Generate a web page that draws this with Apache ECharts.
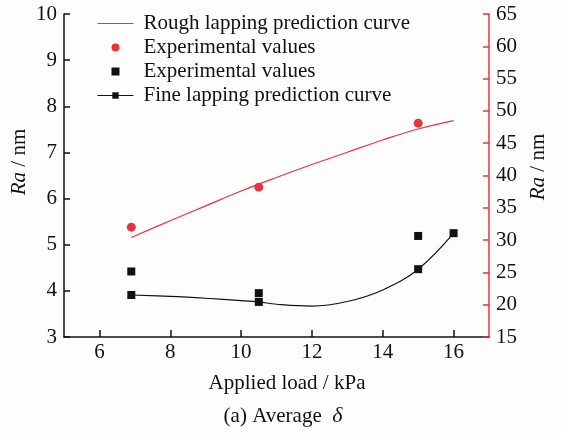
<!DOCTYPE html>
<html>
<head>
<meta charset="utf-8">
<script src="https://cdn.jsdelivr.net/npm/echarts@6/dist/echarts.min.js"></script>
<style>
  html, body { margin: 0; padding: 0; background: #fdfdfd; }
  #chart { width: 562px; height: 433px; }
</style>
</head>
<body>
<div id="chart"></div>
<script>
// values (applied load in kPa, Ra in nm)
const xTicks = [6, 8, 10, 12, 14, 16];

// rough lapping: right (red) axis
const roughCurveLoad = [6.9, 8, 9, 10, 11, 12, 13, 14, 15, 16];
const roughCurveRa = [30.4, 33.0, 35.3, 37.6, 39.7, 41.7, 43.6, 45.5, 47.2, 48.5];
const roughExpLoad = [6.9, 10.5, 15];
const roughExpRa = [32.0, 38.2, 48.1];

// fine lapping: left axis
const fineExpLoad = [6.9, 10.5, 15];
const fineExpRa = [4.42, 3.95, 5.19];
const fineCurveLoad = [6.9, 8, 9, 10, 10.5, 11, 12, 13, 14, 15, 16];
const fineCurveRa = [3.91, 3.88, 3.84, 3.79, 3.76, 3.71, 3.67, 3.77, 4.02, 4.47, 5.25];
const fineMarkerLoad = [6.9, 10.5, 15, 16];

const RED = '#e8333b';
const INK = '#111111';
const FONT = '"Liberation Serif", "Times New Roman", serif';

const zip = (xs, ys) => xs.map((x, i) => [x, ys[i]]);

const chart = echarts.init(document.getElementById('chart'), null, { renderer: 'canvas' });

const tickLabel = { fontFamily: FONT, fontSize: 21, color: INK };
const serif = { fontFamily: FONT, fontSize: 21, fill: INK };
const italic = { fontFamily: FONT, fontSize: 21, fontStyle: 'italic', fill: INK };

// axis names are drawn as rotated/centred text so they sit where the figure puts them
function label(x, y, text, rich, rotation) {
  return {
    type: 'text', x, y, rotation: rotation || 0,
    style: Object.assign({ text, align: 'center', verticalAlign: 'middle', rich }, serif),
  };
}

// legend icons span the full 36x8 box so nothing gets stretched
const lineIcon = 'path://M0,0L0,0M0,3.5H36V4.5H0ZM36,8L36,8';
const squareIcon = 'path://M0,0L0,0M14,0H22V8H14ZM36,8L36,8';

chart.setOption({
  backgroundColor: '#fdfdfd',
  animation: false,
  textStyle: { fontFamily: FONT },
  grid: { left: 64, right: 73, top: 14, bottom: 96 },
  legend: {
    orient: 'vertical',
    left: 97,
    top: 13,
    padding: 0,
    itemGap: 3,
    itemWidth: 36,
    itemHeight: 8,
    textStyle: { fontFamily: FONT, fontSize: 21, color: INK, padding: [0, 0, 0, 5] },
    data: [
      { name: 'Rough lapping prediction curve', icon: lineIcon },
      { name: 'Experimental values', icon: 'circle' },
      { name: 'Experimental values ', icon: squareIcon },
      { name: 'Fine lapping prediction curve', lineStyle: { width: 1 } },
    ],
  },
  xAxis: {
    type: 'value',
    min: 5,
    max: 17,
    axisLine: { lineStyle: { color: INK, width: 1.5 } },
    axisTick: { inside: true, length: 7, customValues: xTicks, lineStyle: { color: INK, width: 1.5 } },
    axisLabel: Object.assign({ margin: 5, customValues: xTicks }, tickLabel),
    splitLine: { show: false },
  },
  yAxis: [
    {
      type: 'value',
      min: 3,
      max: 10,
      interval: 1,
      axisLine: { show: true, lineStyle: { color: INK, width: 1.5 } },
      axisTick: { show: true, inside: true, length: 6, lineStyle: { color: INK, width: 1.5 } },
      axisLabel: Object.assign({ margin: 7 }, tickLabel),
      splitLine: { show: false },
    },
    {
      type: 'value',
      position: 'right',
      min: 15,
      max: 65,
      interval: 5,
      axisLine: { show: true, lineStyle: { color: RED, width: 1.5 } },
      axisTick: { show: true, inside: true, length: 6, lineStyle: { color: RED, width: 1.5 } },
      axisLabel: Object.assign({ margin: 7 }, tickLabel),
      splitLine: { show: false },
    },
  ],
  series: [
    {
      name: 'Rough lapping prediction curve',
      type: 'line',
      yAxisIndex: 1,
      smooth: 0.4,
      symbol: 'none',
      lineStyle: { color: RED, width: 1.2 },
      itemStyle: { color: RED },
      data: zip(roughCurveLoad, roughCurveRa),
      z: 2,
    },
    {
      name: 'Experimental values',
      type: 'scatter',
      yAxisIndex: 1,
      symbol: 'circle',
      symbolSize: 9,
      itemStyle: { color: RED, opacity: 1 },
      data: zip(roughExpLoad, roughExpRa),
      z: 3,
    },
    {
      name: 'Experimental values ',
      type: 'scatter',
      yAxisIndex: 0,
      symbol: 'rect',
      symbolSize: 8,
      itemStyle: { color: INK, opacity: 1 },
      data: zip(fineExpLoad, fineExpRa),
      z: 3,
    },
    {
      name: 'Fine lapping prediction curve',
      type: 'line',
      yAxisIndex: 0,
      smooth: 0.4,
      symbol: 'rect',
      symbolSize: 8,
      showAllSymbol: true,
      lineStyle: { color: INK, width: 1.2 },
      itemStyle: { color: INK },
      data: fineCurveLoad.map((x, i) => ({
        value: [x, fineCurveRa[i]],
        symbol: fineMarkerLoad.includes(x) ? 'rect' : 'none',
      })),
      z: 3,
    },
  ],
  graphic: [
    label(19, 162, '{i|Ra}{n| / nm}', { i: italic, n: serif }, Math.PI / 2),
    label(538, 167, '{i|Ra}{n| / nm}', { i: italic, n: serif }, Math.PI / 2),
    label(287, 383, '{n|Applied load / kPa}', { n: serif }),
    label(283, 416, '{n|(a) Average  }{d|δ}', { n: serif, d: Object.assign({}, italic, { fontSize: 22 }) }),
  ],
});
</script>
</body>
</html>
